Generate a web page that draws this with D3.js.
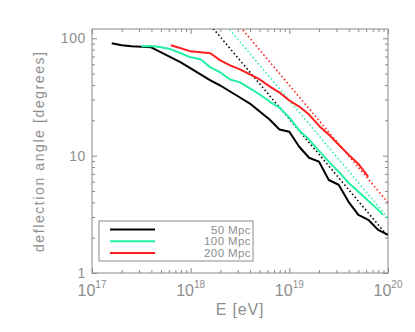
<!DOCTYPE html>
<html>
<head>
<meta charset="utf-8">
<style>
  body { margin: 0; background: #fff; }
  text { font-family: "Liberation Sans", Arial, sans-serif; fill: #8e8e8e; }
</style>
</head>
<body>
<script src="https://cdn.jsdelivr.net/npm/d3@7"></script>
<script>
// --- data ---
var logEBlack = [17.2, 17.3, 17.4, 17.5, 17.6, 17.7, 17.8, 17.9, 18.0, 18.1, 18.2, 18.3, 18.4, 18.5, 18.6,
                 18.7, 18.8, 18.9, 19.0, 19.1, 19.2, 19.3, 19.4, 19.5, 19.6, 19.7, 19.8, 19.9, 20.0];
var thetaBlack = [90.6, 87.1, 85.4, 84.6, 83.8, 75.9, 68.8, 62.3, 55.4, 49.3, 43.8, 39.6, 35.2, 31.3, 27.8,
                  23.8, 20.3, 16.7, 16.0, 11.9, 9.6, 8.9, 6.2, 5.65, 4.04, 3.13, 2.84, 2.33, 2.11];

var logEGreen = [17.5, 17.6, 17.7, 17.8, 17.9, 18.0, 18.1, 18.2, 18.3, 18.4, 18.5, 18.6, 18.7,
                 18.8, 18.9, 19.0, 19.1, 19.2, 19.3, 19.4, 19.5, 19.6, 19.7, 19.8, 19.9, 19.95];
var thetaGreen = [85.4, 86.0, 83.8, 80.5, 74.5, 68.8, 66.2, 56.5, 51.2, 44.6, 42.1, 37.4, 33.2,
                  28.9, 25.7, 21.1, 16.4, 13.7, 11.0, 8.9, 7.3, 5.88, 4.92, 4.12, 3.45, 3.13];

var logERed = [17.8, 17.9, 18.0, 18.1, 18.2, 18.3, 18.4, 18.5, 18.6, 18.7, 18.8,
               18.9, 19.0, 19.1, 19.2, 19.3, 19.4, 19.5, 19.6, 19.7, 19.8];
var thetaRed = [87.1, 82.2, 77.4, 75.9, 74.5, 64.9, 58.8, 54.3, 49.3, 44.6, 38.9,
                34.5, 29.5, 26.2, 22.4, 18.0, 15.1, 12.4, 10.2, 8.5, 6.6];

// dotted E^-1 lines, two end points each
var fitBlackE = [1.5e18, 1e20], fitBlackTheta = [136.7, 2.05];
var fitGreenE = [2.2e18, 1e20], fitGreenTheta = [134.1, 2.95];
var fitRedE   = [3.0e18, 1e20], fitRedTheta   = [132.7, 3.98];

var legendLabels = ["50 Mpc", "100 Mpc", "200 Mpc"];
var colors = ["#000000", "#22f2a2", "#ff1e1e"];
var xMajor = [1e17, 1e18, 1e19, 1e20], xExp = ["17", "18", "19", "20"];
var yMajor = [1, 10, 100], yLabels = ["1", "10", "100"];

// --- layout ---
var W = 415, H = 332;
var pl = 92, pr = 388, pt = 29, pb = 273;

var x = d3.scaleLog().domain([1e17, 1e20]).range([pl, pr]);
var y = d3.scaleLog().domain([1, 120]).range([pb, pt]);

var svg = d3.select("body").append("svg").attr("width", W).attr("height", H);

svg.append("clipPath").attr("id", "plot")
  .append("rect").attr("x", pl).attr("y", pt).attr("width", pr - pl).attr("height", pb - pt);

// minor tick values
var xMinor = [], yMinor = [];
[1e17, 1e18, 1e19].forEach(function(d) { for (var k = 2; k < 10; k++) xMinor.push(d * k); });
[1, 10, 100].forEach(function(d) { for (var k = 2; k < 10; k++) if (d * k <= 120) yMinor.push(d * k); });

function tickAxis(axisFn, scale, vals, size, tr) {
  var g = svg.append("g").attr("transform", tr)
    .call(axisFn(scale).tickValues(vals).tickSizeInner(size).tickSizeOuter(0).tickFormat(""));
  g.select(".domain").remove();
  g.selectAll("line").attr("stroke", "#8a8a8a");
}
tickAxis(d3.axisBottom, x, xMajor, -5, "translate(0," + pb + ")");
tickAxis(d3.axisBottom, x, xMinor, -3, "translate(0," + pb + ")");
tickAxis(d3.axisTop, x, xMajor, -5, "translate(0," + pt + ")");
tickAxis(d3.axisTop, x, xMinor, -3, "translate(0," + pt + ")");
tickAxis(d3.axisLeft, y, yMajor, -5, "translate(" + pl + ",0)");
tickAxis(d3.axisLeft, y, yMinor, -3, "translate(" + pl + ",0)");
tickAxis(d3.axisRight, y, yMajor, -5, "translate(" + pr + ",0)");
tickAxis(d3.axisRight, y, yMinor, -3, "translate(" + pr + ",0)");

// frame
svg.append("rect").attr("x", pl).attr("y", pt).attr("width", pr - pl).attr("height", pb - pt)
  .attr("fill", "none").attr("stroke", "#8a8a8a").attr("stroke-width", 1);

// tick labels
xMajor.forEach(function(d, i) {
  var t = svg.append("text").attr("x", x(d)).attr("y", 296).attr("text-anchor", "middle")
    .style("font-size", "16px");
  t.append("tspan").text("10");
  t.append("tspan").attr("dy", -8).style("font-size", "10px").text(xExp[i]);
});
yMajor.forEach(function(d, i) {
  svg.append("text").attr("x", 86).attr("y", y(d) + 5).attr("text-anchor", "end")
    .style("font-size", "14px").style("letter-spacing", "0.6px").text(yLabels[i]);
});

// axis titles
svg.append("text").attr("x", 240).attr("y", 315).attr("text-anchor", "middle")
  .style("font-size", "16px").style("letter-spacing", "0.8px").text("E [eV]");
svg.append("text").attr("transform", "translate(44,152) rotate(-90)").attr("text-anchor", "middle")
  .attr("textLength", 200).attr("lengthAdjust", "spacing")
  .style("font-size", "14px").text("deflection angle [degrees]");

// curves
var line = d3.line().x(function(d) { return x(d[0]); }).y(function(d) { return y(d[1]); });
var plot = svg.append("g").attr("clip-path", "url(#plot)");

var fits = [[fitBlackE, fitBlackTheta], [fitGreenE, fitGreenTheta], [fitRedE, fitRedTheta]];
fits.forEach(function(f, i) {
  plot.append("path").datum(f[0].map(function(e, j) { return [e, f[1][j]]; }))
    .attr("d", line).attr("fill", "none").attr("stroke", colors[i])
    .attr("stroke-width", 1.6).attr("stroke-dasharray", "1.5,2.5");
});

var series = [[logEBlack, thetaBlack], [logEGreen, thetaGreen], [logERed, thetaRed]];
series.forEach(function(s, i) {
  plot.append("path").datum(s[0].map(function(le, j) { return [Math.pow(10, le), s[1][j]]; }))
    .attr("d", line).attr("fill", "none").attr("stroke", colors[i])
    .attr("stroke-width", 2).attr("stroke-linejoin", "round");
});

// legend
svg.append("rect").attr("x", 99).attr("y", 221).attr("width", 154).attr("height", 40)
  .attr("fill", "#fff").attr("stroke", "#8a8a8a");
legendLabels.forEach(function(lab, i) {
  var ly = 229.5 + i * 11.7;
  svg.append("line").attr("x1", 110).attr("x2", 155).attr("y1", ly).attr("y2", ly)
    .attr("stroke", colors[i]).attr("stroke-width", 2);
  svg.append("text").attr("x", 251).attr("y", ly + 4).attr("text-anchor", "end")
    .style("font-size", "11.5px").style("letter-spacing", "0.4px").text(lab);
});
</script>
</body>
</html>
